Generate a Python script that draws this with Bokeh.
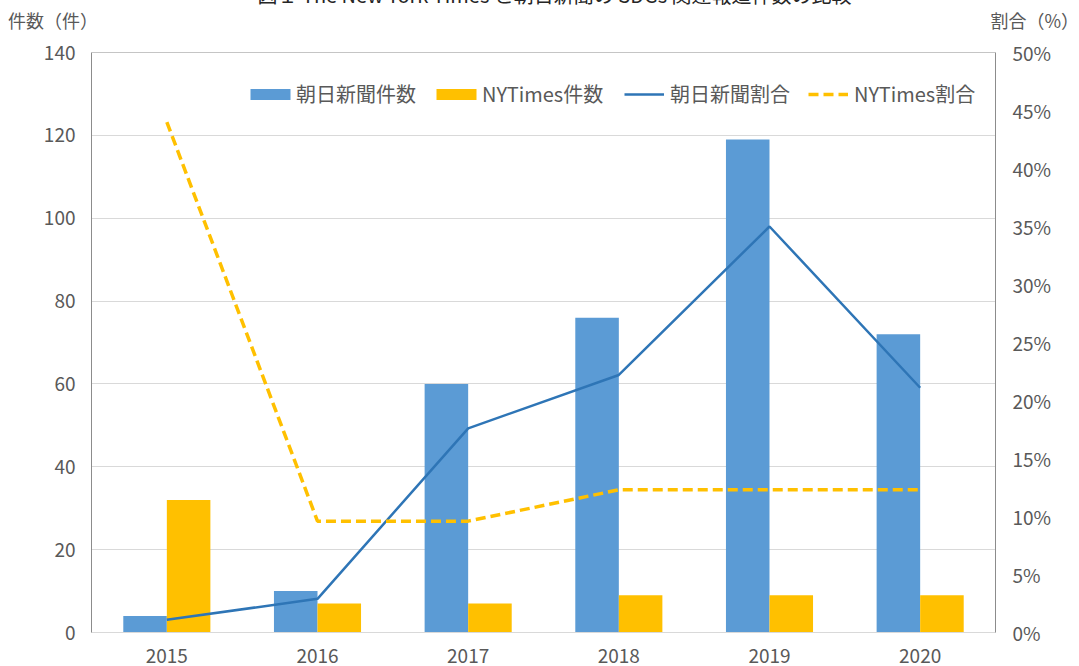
from bokeh.plotting import figure
from bokeh.layouts import column
from bokeh.models import (Range1d, FactorRange, LinearAxis, FixedTicker, ColumnDataSource,
                          NumeralTickFormatter, Legend, LegendItem, Span, Div)
from bokeh.transform import dodge
from bokeh.embed import file_html
from bokeh.resources import INLINE

years = ["2015", "2016", "2017", "2018", "2019", "2020"]
asahi_count = [4, 10, 60, 76, 119, 72]
nyt_count = [32, 7, 7, 9, 9, 9]
asahi_ratio = [0.011, 0.029, 0.176, 0.222, 0.350, 0.211]
nyt_ratio = [0.440, 0.096, 0.096, 0.123, 0.123, 0.123]
left_ticks = [0, 20, 40, 60, 80, 100, 120, 140]
right_ticks = [0, 0.05, 0.10, 0.15, 0.20, 0.25, 0.30, 0.35, 0.40, 0.45, 0.50]
title_text = "図１ The New York Times と朝日新聞の SDGs 関連報道件数の比較"
left_title = "件数（件）"
right_title = "割合（%）"

FONT = "Noto Sans CJK JP"
GRAY = "#595959"

W = 1079
HDR = 36                 # header strip (axis titles, cut chart title)
H = 666 - HDR            # plot canvas height
FL, FR, FT, FB = 91, 84, 52 - HDR, 34   # frame borders inside the plot canvas

# ---- header strip (HTML) ----
span_css = ("position:absolute;white-space:nowrap;line-height:1;"
            "font-family:'Noto Sans CJK JP';")
header_html = (
    f'<div style="position:relative;width:{W}px;height:{HDR}px;overflow:hidden;">'
    f'<span style="{span_css}left:30px;right:0;top:-15px;text-align:center;'
    f'font-size:20px;color:#262626;">{title_text}</span>'
    f'<span style="{span_css}left:8px;top:11px;font-size:18px;color:{GRAY};">{left_title}</span>'
    f'<span style="{span_css}right:0px;top:11px;font-size:18px;color:{GRAY};">{right_title}</span>'
    '</div>'
)
header = Div(text=header_html, width=W, height=HDR, margin=0)

# ---- plot ----
p = figure(width=W, height=H, output_backend="svg", toolbar_location=None,
           title=None,
           x_range=FactorRange(factors=years, range_padding=0),
           y_range=Range1d(0, 140), margin=0)
p.extra_y_ranges = {"pct": Range1d(0, 0.5)}
p.min_border_left = FL
p.min_border_right = FR
p.min_border_top = FT
p.min_border_bottom = FB
p.outline_line_color = None
p.background_fill_color = "white"
p.border_fill_color = "white"

source = ColumnDataSource(dict(x=years, a=asahi_count, n=nyt_count,
                               ar=asahi_ratio, nr=nyt_ratio))

bw = 0.289
r_a = p.vbar(x=dodge("x", -bw / 2, range=p.x_range), top="a", width=bw,
             source=source, color="#5B9BD5", line_color=None)
r_n = p.vbar(x=dodge("x", bw / 2, range=p.x_range), top="n", width=bw,
             source=source, color="#FFC000", line_color=None)
r_ar = p.line(x="x", y="ar", source=source, y_range_name="pct",
              line_color="#2E75B6", line_width=2.5)
r_nr = p.line(x="x", y="nr", source=source, y_range_name="pct",
              line_color="#FFC000", line_width=3.5, line_dash="10 5")

# grid
p.xgrid.grid_line_color = None
p.ygrid.grid_line_color = "#D9D9D9"
p.ygrid.grid_line_width = 1

# left axis
ya = p.yaxis[0]
ya.ticker = FixedTicker(ticks=left_ticks)
ya.axis_line_color = "#8C8C8C"
ya.major_tick_line_color = None
ya.minor_tick_line_color = None
ya.major_label_text_font = FONT
ya.major_label_text_font_size = "19px"
ya.major_label_text_color = GRAY
ya.major_label_standoff = 10

# bottom axis
xa = p.xaxis[0]
xa.axis_line_color = "#D9D9D9"
xa.major_tick_line_color = None
xa.minor_tick_line_color = None
xa.major_label_text_font = FONT
xa.major_label_text_font_size = "19px"
xa.major_label_text_color = GRAY
xa.major_label_standoff = 10

# right axis
ra = LinearAxis(y_range_name="pct", ticker=FixedTicker(ticks=right_ticks),
                formatter=NumeralTickFormatter(format="0%"))
ra.axis_line_color = "#8C8C8C"
ra.major_tick_line_color = None
ra.minor_tick_line_color = None
ra.major_label_text_font = FONT
ra.major_label_text_font_size = "19px"
ra.major_label_text_color = GRAY
ra.major_label_standoff = 11
p.add_layout(ra, "right")

# top border of the plot box
p.add_layout(Span(location=140, dimension="width", line_color="#8C8C8C", line_width=1))


def style(lg):
    lg.label_text_font = FONT
    lg.label_text_font_size = "20px"
    lg.label_text_color = GRAY
    lg.padding = 0
    lg.margin = 0
    lg.border_line_color = None
    lg.background_fill_alpha = 0
    lg.label_height = 22
    lg.orientation = "horizontal"


# legend: bars
leg_bars = Legend(items=[
    LegendItem(label="朝日新聞件数", renderers=[r_a]),
    LegendItem(label="NYTimes件数", renderers=[r_n]),
], location=(245 - FL, 524))
style(leg_bars)
leg_bars.glyph_width = 50
leg_bars.glyph_height = 14
leg_bars.label_standoff = 1
leg_bars.spacing = 15
p.add_layout(leg_bars, "center")

# legend: lines
leg_lines = Legend(items=[
    LegendItem(label="朝日新聞割合", renderers=[r_ar]),
    LegendItem(label="NYTimes割合", renderers=[r_nr]),
], location=(624 - FL, 524))
style(leg_lines)
leg_lines.glyph_width = 40
leg_lines.glyph_height = 14
leg_lines.label_standoff = 6
leg_lines.spacing = 18
p.add_layout(leg_lines, "center")

layout = column(header, p, spacing=0, margin=0)
open("out.html", "w").write(file_html(layout, INLINE))
